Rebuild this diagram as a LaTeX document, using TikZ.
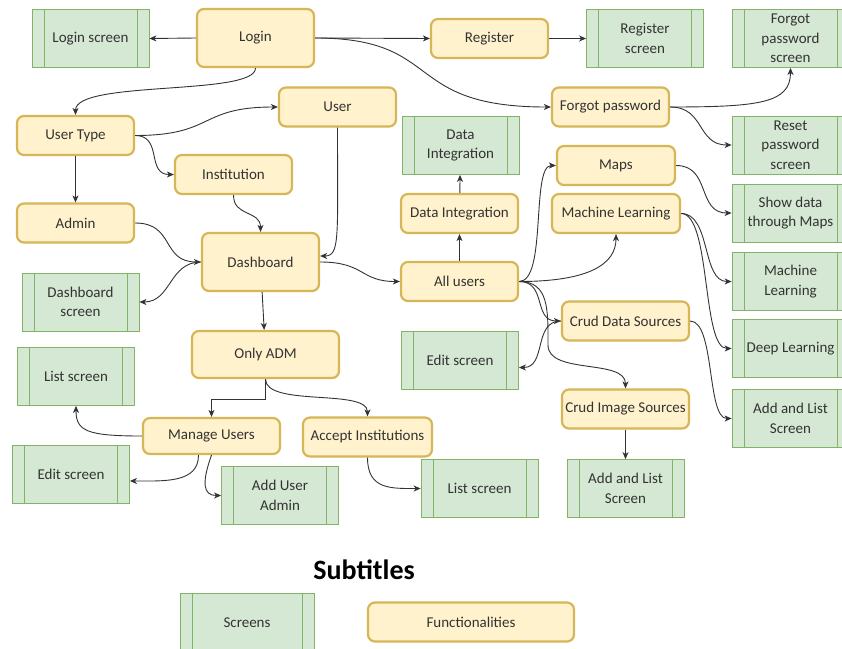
\documentclass[tikz,border=0pt]{standalone}
\usepackage{fontspec}
\setmainfont{Carlito}
\usetikzlibrary{arrows.meta,calc}

\definecolor{funcfill}{HTML}{FFF2CC}
\definecolor{funcdraw}{HTML}{D6B656}
\definecolor{scrfill}{HTML}{D5E8D4}
\definecolor{scrdraw}{HTML}{82B366}
\definecolor{linkgray}{HTML}{333333}

\begin{document}
\begin{tikzpicture}[x=1pt,y=-1pt,->,>={Stealth[length=7pt,width=6pt,inset=2pt]},line width=0.9pt,linkgray]
  \tikzstyle{func}=[rectangle,rounded corners=7pt,draw=funcdraw,fill=funcfill,line width=2.2pt,
    minimum width=117pt,minimum height=39pt,inner sep=2pt,align=center,text=black!80,
    font=\fontsize{15}{19.5}\selectfont]
  \tikzstyle{screen}=[rectangle,draw=scrdraw,fill=scrfill,line width=0.8pt,
    minimum width=117pt,minimum height=58pt,inner sep=2pt,align=center,text=black!80,
    font=\fontsize{15}{19.5}\selectfont,
    path picture={\draw[-,scrdraw,line width=0.8pt]
      ([xshift=12pt]path picture bounding box.north west) -- ([xshift=12pt]path picture bounding box.south west)
      ([xshift=-12pt]path picture bounding box.north east) -- ([xshift=-12pt]path picture bounding box.south east);}]

  \useasboundingbox (0,0) rectangle (842,648);
  \clip (0,0) rectangle (842,648);

  % functionalities
  \node[func,minimum height=58pt] (Login) at (255.5,38) {Login};
  \node[func] (Register) at (489.5,38.5) {Register};
  \node[func] (ForgotPw) at (610.5,107) {Forgot password};
  \node[func] (User) at (337.5,107) {User};
  \node[func] (UserType) at (75.5,135.5) {User Type};
  \node[func] (Institution) at (233.5,174.5) {Institution};
  \node[func] (Admin) at (75.5,223) {Admin};
  \node[func,minimum height=58pt] (Dashboard) at (260.5,262) {Dashboard};
  \node[func,minimum width=147pt,minimum height=47pt] (OnlyAdm) at (265.5,354.5) {Only ADM};
  \node[func,minimum width=137pt,minimum height=36pt] (ManageUsers) at (211.5,436) {Manage Users};
  \node[func,minimum width=129pt] (AcceptInst) at (367.5,437) {Accept Institutions};
  \node[func] (DataInt) at (459.5,213.5) {Data Integration};
  \node[func] (AllUsers) at (459.5,281.5) {All users};
  \node[func,minimum width=118pt] (Maps) at (616,165.5) {Maps};
  \node[func,minimum width=128pt] (MachLearn) at (616,213.5) {Machine Learning};
  \node[func,minimum width=127pt] (CrudData) at (625.5,321) {Crud Data Sources};
  \node[func,minimum width=127pt] (CrudImage) at (625.5,409) {Crud Image Sources};

  % screens
  \node[screen] (LoginScr) at (90.5,38.5) {Login screen};
  \node[screen] (RegisterScr) at (645,38.5) {Register\\screen};
  \node[screen] (ForgotPwScr) at (790.5,38.5) {Forgot\\password\\screen};
  \node[screen] (ResetPwScr) at (790.5,145) {Reset\\password\\screen};
  \node[screen] (DataIntScr) at (460.5,145.5) {Data\\Integration};
  \node[screen] (MapsScr) at (790.5,213) {Show data\\through Maps};
  \node[screen] (MLScr) at (790.5,281.5) {Machine\\Learning};
  \node[screen] (DLScr) at (790.5,348.5) {Deep Learning};
  \node[screen] (AddListScrB) at (790.5,418.5) {Add and List\\Screen};
  \node[screen] (DashScr) at (80.5,302) {Dashboard\\screen};
  \node[screen] (ListScrA) at (76,376.5) {List screen};
  \node[screen] (EditScrA) at (71,474) {Edit screen};
  \node[screen] (AddUserScr) at (280,495.5) {Add User\\Admin};
  \node[screen] (ListScrB) at (479.5,488.5) {List screen};
  \node[screen] (EditScrB) at (460,360.5) {Edit screen};
  \node[screen] (AddListScrA) at (625.5,488.5) {Add and List\\Screen};

  % legend
  \node[text=black,font=\fontsize{28}{30}\selectfont\bfseries] (Subtitles) at (364,570) {Subtitles};
  \node[screen,minimum width=134pt,minimum height=60pt] (LegScr) at (247,623) {Screens};
  \node[func,minimum width=206pt] (LegFunc) at (471,622) {Functionalities};

  % login flow
  \draw (Login.west) -- (LoginScr.east);
  \draw (Login.east) -- (Register.west);
  \draw (Register.east) -- (RegisterScr.west);
  \draw (Login.east) .. controls +(130,0) and +(-150,0) .. (ForgotPw.west);
  \draw (ForgotPw.east) .. controls +(90,0) and +(0,35) .. (ForgotPwScr.south);
  \draw (ForgotPw.east) .. controls +(35,0) and +(-35,0) .. (ResetPwScr.west);

  % user types
  \draw (Login.south) .. controls +(0,28) and +(0,-35) .. (UserType.north);
  \draw (UserType.east) .. controls +(80,0) and +(-80,0) .. (User.west);
  \draw (UserType.east) .. controls +(28,0) and +(-28,0) .. (Institution.west);
  \draw (UserType) -- (Admin);
  \draw (Institution.south) .. controls +(0,22) and +(0,-22) .. (Dashboard.north);
  \draw (User.south) .. controls +(0,110) and +(20,0) .. ($(Dashboard.east)+(0,-6)$);
  \draw (Admin.east) .. controls +(40,0) and +(-40,0) .. (Dashboard.west);
  \draw (Dashboard.west) .. controls +(-32,0) and +(32,0) .. (DashScr.east);
  \draw (Dashboard) -- (OnlyAdm);
  \draw (Dashboard.east) .. controls +(45,0) and +(-40,0) .. (AllUsers.west);

  % admin part
  \draw (OnlyAdm.south) -- ++(0,20) -| (ManageUsers.north);
  \draw (OnlyAdm.south) .. controls +(0,28) and +(0,-28) .. (AcceptInst.north);
  \draw (ManageUsers.west) .. controls +(-55,0) and +(0,25) .. (ListScrA.south);
  \draw ($(ManageUsers.south)+(-13,0)$) .. controls +(0,28) and +(35,0) .. ($(EditScrA.east)+(0,7)$);
  \draw (ManageUsers.south) .. controls +(-10,28) and +(-18,0) .. (AddUserScr.west);
  \draw (AcceptInst.south) .. controls +(0,32) and +(-30,0) .. (ListScrB.west);

  % all users part
  \draw (AllUsers) -- (DataInt);
  \draw (DataInt) -- (DataIntScr);
  \draw (AllUsers.east) .. controls +(28,0) and +(-25,0) .. (Maps.west);
  \draw (AllUsers.east) .. controls +(70,0) and +(0,30) .. (MachLearn.south);
  \draw (AllUsers.east) .. controls +(28,0) and +(-28,0) .. (CrudData.west);
  \draw (AllUsers.east) .. controls +(30,0) and +(0,-35) .. (548,345)
    .. controls +(0,30) and +(0,-30) .. (CrudImage.north);
  \draw (CrudData.west) .. controls +(-28,0) and +(28,0) .. ($(EditScrB.east)+(0,7)$);
  \draw (CrudData.east) .. controls +(25,0) and +(-25,0) .. (AddListScrB.west);
  \draw (CrudImage) -- (AddListScrA);
  \draw (Maps.east) .. controls +(35,0) and +(-35,0) .. (MapsScr.west);
  \draw (MachLearn.east) .. controls +(30,0) and +(-30,0) .. (MLScr.west);
  \draw (MachLearn.east) .. controls +(30,0) and +(-30,0) .. (DLScr.west);
\end{tikzpicture}
\end{document}
